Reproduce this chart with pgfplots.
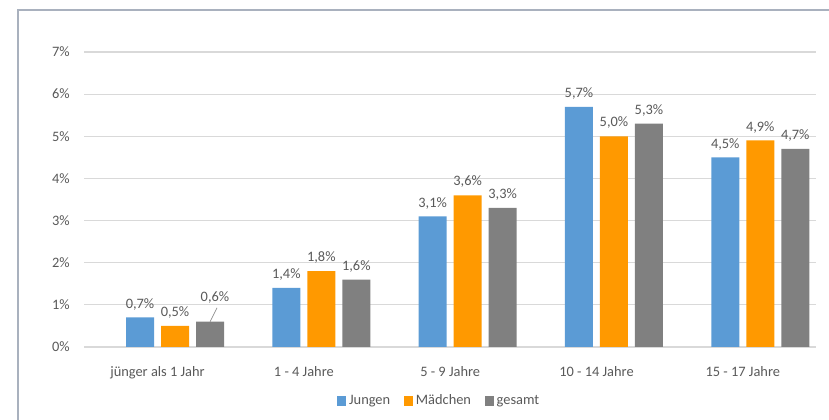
\documentclass[border=0pt]{standalone}
\usepackage{pgfplots}
\pgfplotsset{compat=1.18}
\usepackage{fontspec}
\setmainfont{Carlito}
\definecolor{cblue}{HTML}{5B9BD5}
\definecolor{corange}{HTML}{FF9900}
\definecolor{cgray}{HTML}{808080}
\definecolor{ctext}{HTML}{595959}
\definecolor{cgrid}{HTML}{D9D9D9}
\definecolor{cframe}{HTML}{A9B1BE}
\newcommand{\lblfont}{\fontsize{10.8}{12}\selectfont}
\begin{document}
\begin{tikzpicture}
\useasboundingbox (0,0) rectangle (621.75pt,315pt);
\draw[cframe, line width=1.2pt] (13.5pt,0) -- (13.5pt,307.5pt) -- (621.75pt,307.5pt);
\begin{axis}[
  at={(63pt,54.75pt)}, anchor=south west,
  scale only axis, width=549pt, height=221.25pt,
  ybar=5.25pt, bar width=21pt,
  xmin=-0.622, xmax=4.381, ymin=0, ymax=7,
  xtick={0,1,2,3,4},
  xticklabels={jünger als 1 Jahr, 1 - 4 Jahre, 5 - 9 Jahre, 10 - 14 Jahre, 15 - 17 Jahre},
  ytick={0,1,2,3,4,5,6,7},
  yticklabel={\pgfmathprintnumber{\tick}\%},
  /pgf/number format/assume math mode=true,
  axis line style={draw=none},
  tick style={draw=none},
  ymajorgrids, grid style={cgrid, line width=0.8pt},
  ticklabel style={font=\lblfont, text=ctext},
  yticklabel style={anchor=east, inner sep=0pt, xshift=-10.5pt},
  xticklabel style={anchor=base, inner sep=0pt, yshift=-17.5pt, xshift=-13.1pt},
  point meta=explicit symbolic,
  nodes near coords,
  every node near coord/.append style={font=\lblfont, text=ctext, anchor=base, inner sep=0pt, yshift=7pt},
  legend style={at={(0.485,-0.183)}, anchor=center, draw=none, legend columns=-1,
    font=\lblfont, text=ctext, inner sep=0pt, nodes={inner sep=1pt},
    /tikz/every odd column/.append style={column sep=1pt},
    /tikz/every even column/.append style={column sep=9.5pt}},
  legend image code/.code={\fill[#1] (0pt,-3.4pt) rectangle (6.75pt,3.4pt);},
]
\addplot[fill=cblue, draw=none] coordinates {(0,0.7) [0,7\%] (1,1.4) [1,4\%] (2,3.1) [3,1\%] (3,5.7) [5,7\%] (4,4.5) [4,5\%]};
\addplot[fill=corange, draw=none] coordinates {(0,0.5) [0,5\%] (1,1.8) [1,8\%] (2,3.6) [3,6\%] (3,5.0) [5,0\%] (4,4.9) [4,9\%]};
\addplot[fill=cgray, draw=none] coordinates {(0,0.6) [{}] (1,1.6) [1,6\%] (2,3.3) [3,3\%] (3,5.3) [5,3\%] (4,4.7) [4,7\%]};
\legend{Jungen, Mädchen, gesamt}
\draw[ctext!70, line width=0.5pt] (axis cs:0.24,0.6) -- (axis cs:0.287,0.93);
\node[font=\lblfont, text=ctext, anchor=base, inner sep=0pt] at (axis cs:0.273,1.07) {0,6\%};
\end{axis}
\end{tikzpicture}
\end{document}
